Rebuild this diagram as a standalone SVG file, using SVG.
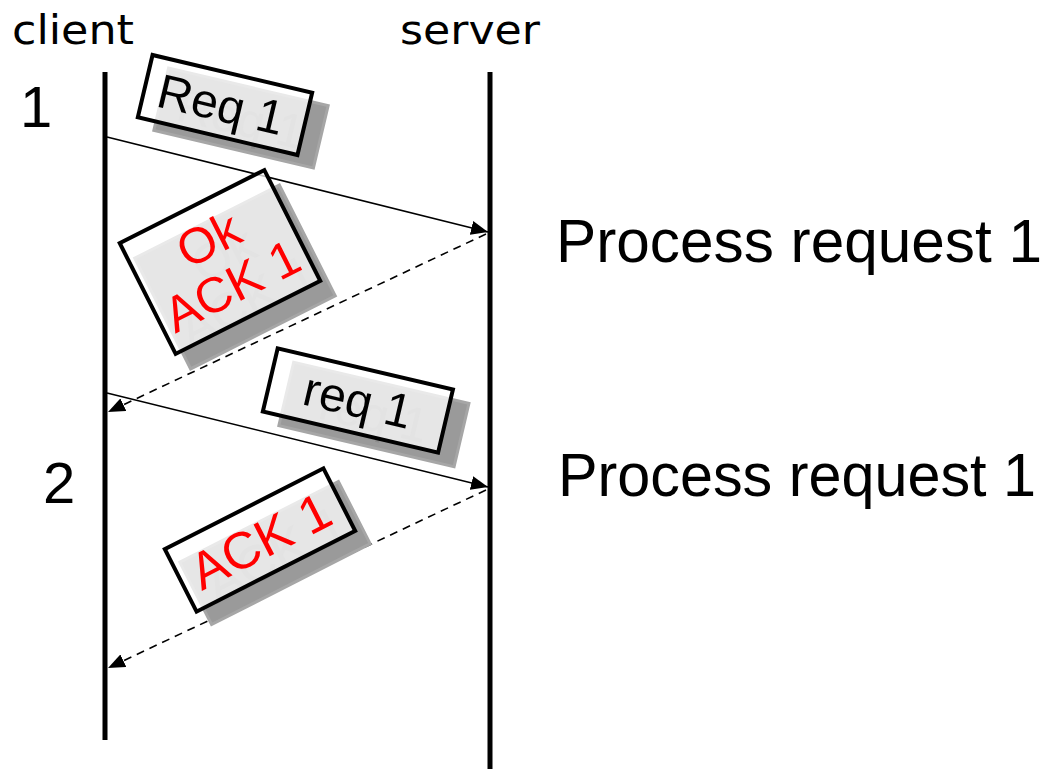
<svg xmlns="http://www.w3.org/2000/svg" width="1056" height="769" viewBox="0 0 1056 769">
<style>
.life{stroke:#000;stroke-width:5;fill:none}
.msg{stroke:#000;stroke-width:1.6;fill:none}
.dash{stroke-dasharray:8 6}
.lbl{font-family:"DejaVu Sans",sans-serif;font-size:40px;fill:#000}
.num{font-family:"Liberation Sans",Arial,sans-serif;font-size:58px;fill:#000}
.proc{font-family:"Liberation Sans",Arial,sans-serif;font-size:62px;fill:#000}
.shadow{fill:#9a9a9a;stroke:#a6a6a6;stroke-width:3}
.ghost{font-family:"Liberation Sans",Arial,sans-serif;fill:#8e8e8e;text-anchor:middle}
.box{fill:#fff;fill-opacity:0.75;stroke:#000;stroke-width:4}
.pt{font-family:"Liberation Sans",Arial,sans-serif;text-anchor:middle}
.blk{fill:#000}
.red{fill:#ff0000}
</style>
<defs>
<marker id="ah" markerUnits="userSpaceOnUse" markerWidth="18" markerHeight="14" refX="17" refY="7" orient="auto">
<path d="M0,0 L17,7 L0,14 Z" fill="#000"/>
</marker>
</defs>
<g id="client">
<text class="lbl" x="12" y="44" textLength="122" lengthAdjust="spacingAndGlyphs">client</text>
<line class="life" x1="105" y1="72" x2="105" y2="740"/>
</g>
<g id="server">
<text class="lbl" x="400" y="44" textLength="140" lengthAdjust="spacingAndGlyphs">server</text>
<line class="life" x1="490" y1="72" x2="490" y2="769"/>
</g>
<g id="step-labels">
<text class="num" x="20" y="127">1</text>
<text class="num" x="43" y="503">2</text>
</g>
<g id="process-labels">
<text class="proc" x="556" y="262" textLength="486" lengthAdjust="spacingAndGlyphs">Process request 1</text>
<text class="proc" x="558" y="496" textLength="478" lengthAdjust="spacingAndGlyphs">Process request 1</text>
</g>
<g id="connectors">
<line class="msg" x1="107" y1="137" x2="488" y2="232" marker-end="url(#ah)"/>
<line class="msg dash" x1="486" y1="234" x2="108" y2="412" marker-end="url(#ah)"/>
<line class="msg" x1="107" y1="393" x2="488" y2="487" marker-end="url(#ah)"/>
<line class="msg dash" x1="486" y1="490" x2="108" y2="668" marker-end="url(#ah)"/>
</g>
<g id="packet-req1">
<g transform="translate(241,118) rotate(13.3)">
<rect class="shadow" x="-82" y="-32" width="164" height="64"/>
<text class="ghost" x="0" y="17" font-size="48">Req 1</text>
</g>
<g transform="translate(225,105) rotate(13.3)">
<rect class="box" x="-82" y="-32" width="164" height="64"/>
<text class="pt blk" x="-4" y="17" font-size="48">Req 1</text>
</g>
</g>
<g id="packet-ok-ack1">
<g transform="translate(235,277) rotate(-26.8)">
<rect class="shadow" x="-81" y="-62" width="162" height="124"/>
<text class="ghost" x="0" y="-8" font-size="50">Ok</text>
<text class="ghost" x="0" y="44" font-size="50">ACK 1</text>
</g>
<g transform="translate(220,262) rotate(-26.8)">
<rect class="box" x="-81" y="-62" width="162" height="124"/>
<text class="pt red" x="0" y="-8" font-size="50">Ok</text>
<text class="pt red" x="0" y="44" font-size="50">ACK 1</text>
</g>
</g>
<g id="packet-req1-retry">
<g transform="translate(374,414) rotate(13.2)">
<rect class="shadow" x="-90" y="-32" width="180" height="65"/>
<text class="ghost" x="0" y="17" font-size="48">req 1</text>
</g>
<g transform="translate(358,400) rotate(13.2)">
<rect class="box" x="-90" y="-32" width="180" height="65"/>
<text class="pt blk" x="0" y="17" font-size="48">req 1</text>
</g>
</g>
<g id="packet-ack1">
<g transform="translate(275,553) rotate(-27)">
<rect class="shadow" x="-89" y="-35" width="178" height="70"/>
<text class="ghost" x="0" y="19" font-size="52">ACK 1</text>
</g>
<g transform="translate(260,540) rotate(-27)">
<rect class="box" x="-89" y="-35" width="178" height="70"/>
<text class="pt red" x="0" y="19" font-size="52">ACK 1</text>
</g>
</g>
</svg>
